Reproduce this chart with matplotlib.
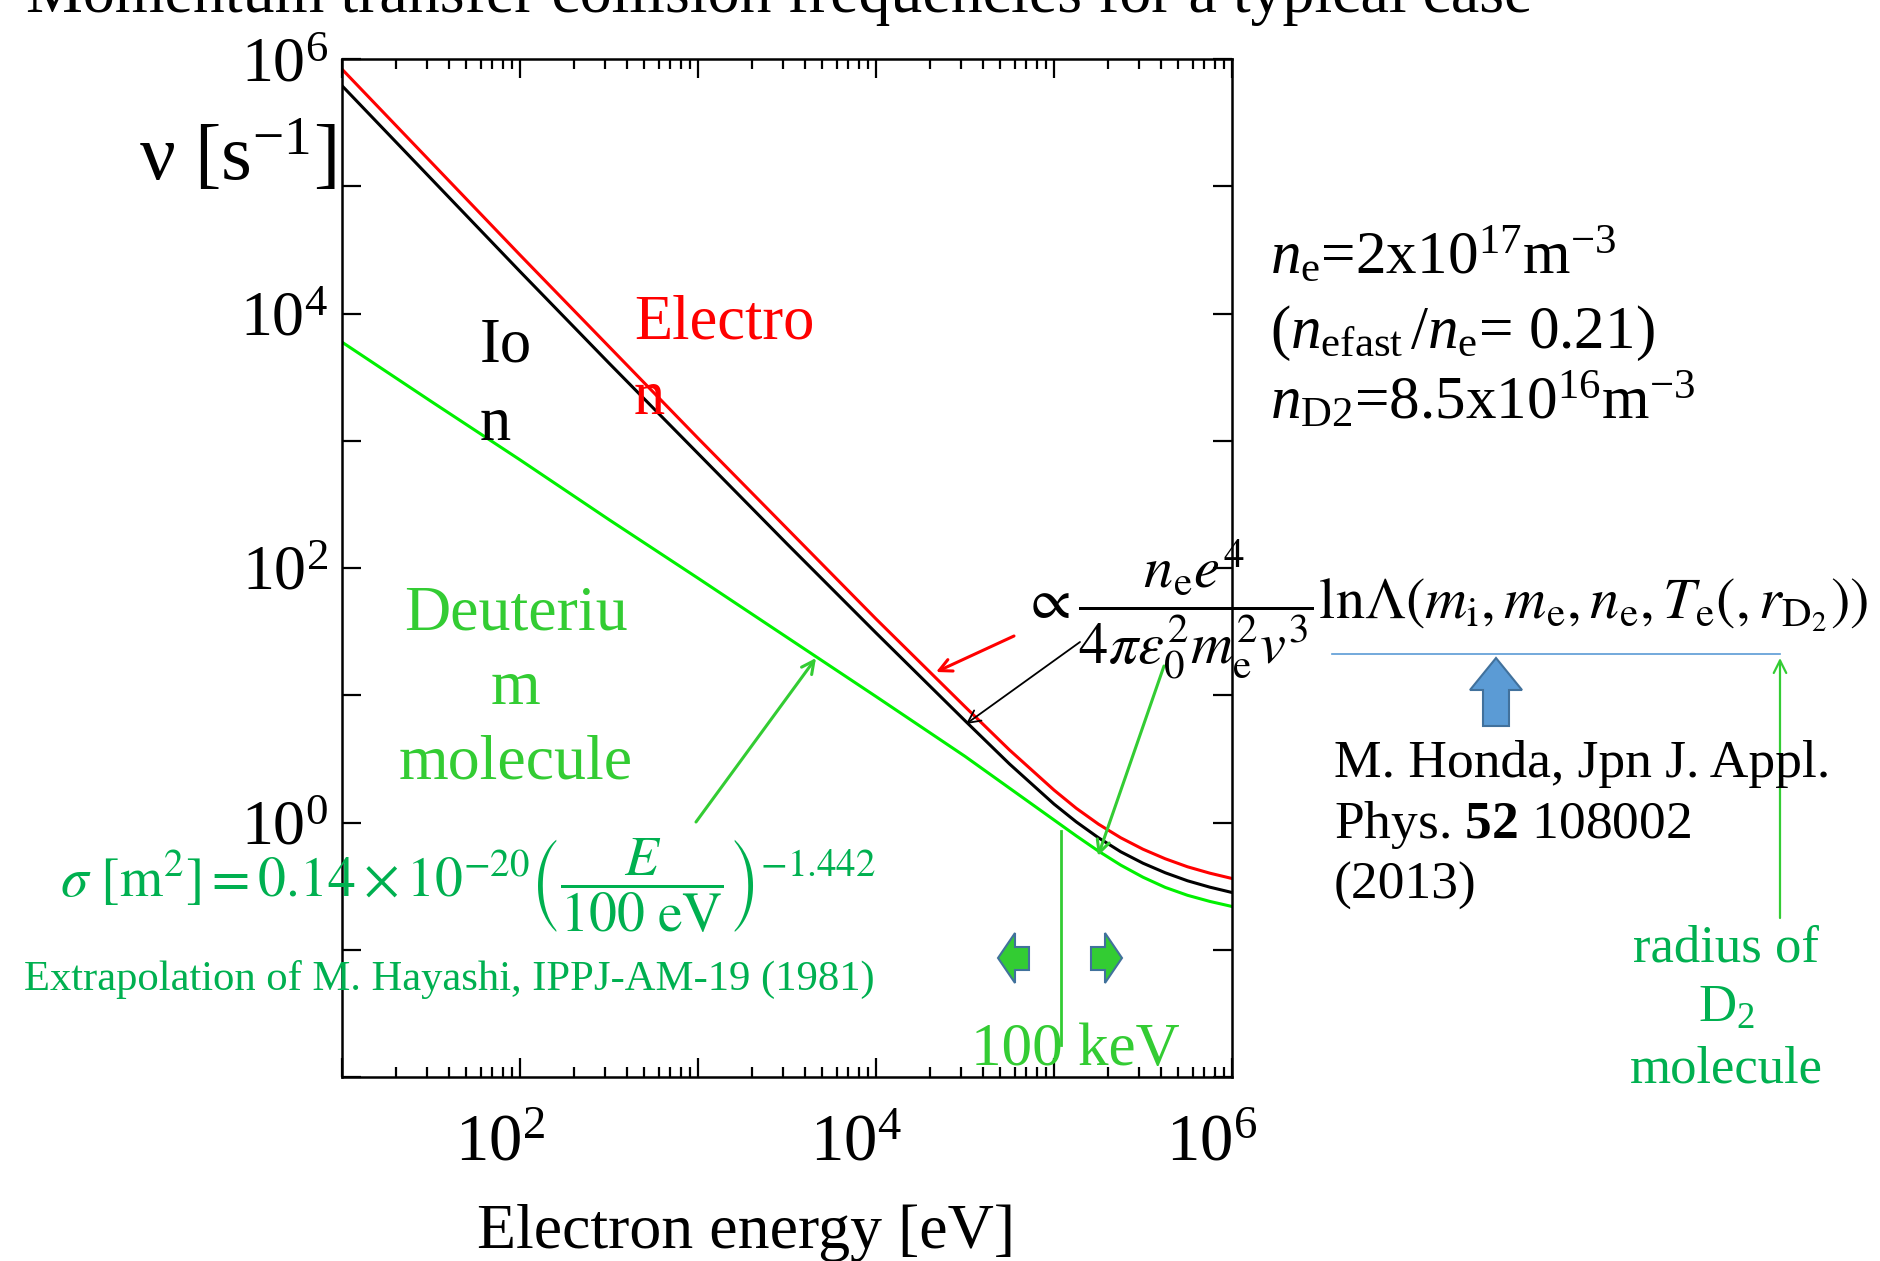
import numpy as np
import matplotlib
matplotlib.use("Agg")
import matplotlib.pyplot as plt
from matplotlib import ticker
from matplotlib.patches import Polygon
from matplotlib.transforms import ScaledTranslation

plt.rcParams["font.family"] = ["Liberation Serif", "DejaVu Serif"]
plt.rcParams["mathtext.fontset"] = "custom"
plt.rcParams["mathtext.rm"] = "Liberation Serif"
plt.rcParams["mathtext.it"] = "Liberation Serif:italic"
plt.rcParams["mathtext.bf"] = "Liberation Serif:bold"

W, H = 1881, 1261

log_energy = [1.0, 1.5, 2.0, 2.5, 3.0, 3.5, 4.0, 4.5, 4.75, 5.0, 5.125, 5.25,
              5.375, 5.5, 5.625, 5.75, 5.875, 6.0]
# log10 collision frequency [s^-1]
log_nu_electron = [5.92, 5.19, 4.46, 3.74, 3.02, 2.31, 1.60, 0.91, 0.57, 0.255, 0.112, -0.013,
                   -0.12, -0.21, -0.285, -0.348, -0.398, -0.44]
log_nu_ion = [5.79, 5.06, 4.33, 3.61, 2.90, 2.19, 1.49, 0.80, 0.46, 0.145, 0.005, -0.12,
              -0.23, -0.32, -0.395, -0.458, -0.508, -0.55]
log_nu_d2 = [3.775, 3.31, 2.85, 2.38, 1.92, 1.455, 0.99, 0.52, 0.27, 0.02, -0.105, -0.225,
             -0.335, -0.43, -0.51, -0.572, -0.62, -0.66]

x_decades = [1, 2, 3, 4, 5, 6]
y_decades = [-2, -1, 0, 1, 2, 3, 4, 5, 6]
labelled_decades = [0, 2, 4, 6]
cut_energy = 1.1e5  # "100 keV" marker

GREEN = "#33cc33"
DKGREEN = "#00b050"
BLUE = "#5b9bd5"


def fp(x, y):
    """full-size pixel position -> figure fraction"""
    return (x / W, 1 - y / H)


fig = plt.figure(figsize=(W / 100, H / 100), dpi=100)
ax = fig.add_axes([342 / W, 1 - 1077 / H, 890 / W, 1018 / H])

E = 10.0 ** np.array(log_energy)
ax.plot(E, 10.0 ** np.array(log_nu_electron), color="#ff0000", lw=2.2)
ax.plot(E, 10.0 ** np.array(log_nu_ion), color="black", lw=2.2)
ax.plot(E, 10.0 ** np.array(log_nu_d2), color="#00f000", lw=2.2)

ax.set_xscale("log")
ax.set_yscale("log")
ax.set_xlim(10, 1e6)
ax.set_ylim(1e-2, 1e6)


def dec_label(v, pos):
    e = int(round(np.log10(v)))
    return f"$10^{{{e}}}$" if e in labelled_decades else ""


ax.xaxis.set_major_locator(ticker.FixedLocator([10.0 ** d for d in x_decades]))
ax.xaxis.set_minor_locator(ticker.LogLocator(base=10, subs=np.arange(2, 10), numticks=20))
ax.xaxis.set_major_formatter(ticker.FuncFormatter(dec_label))
ax.xaxis.set_minor_formatter(ticker.NullFormatter())
ax.yaxis.set_major_locator(ticker.FixedLocator([10.0 ** d for d in y_decades]))
ax.yaxis.set_minor_locator(ticker.NullLocator())
ax.yaxis.set_major_formatter(ticker.FuncFormatter(dec_label))

for s in ax.spines.values():
    s.set_linewidth(1.8)
ax.tick_params(which="both", direction="in", top=True, right=True, width=1.6)
ax.tick_params(which="major", length=14)
ax.tick_params(which="minor", length=7)
ax.tick_params(axis="x", pad=26, labelsize=48)
ax.tick_params(axis="y", pad=10, labelsize=46)
shift = ScaledTranslation(-0.2, 0, fig.dpi_scale_trans)
for lab in ax.get_xticklabels():
    lab.set_transform(lab.get_transform() + shift)

ax.set_xlabel("Electron energy [eV]", fontsize=46, va="baseline")
ax.xaxis.set_label_coords((746 - 342) / 890, -(1248 - 1077) / 1018)

# title, mostly cut off by the top edge
fig.text(*fp(26, 12), "Momentum transfer collision frequencies for a typical case",
         fontsize=46, va="baseline", ha="left")
fig.text(*fp(336, 180), r"ν [s$^{-1}$]", fontsize=57, va="baseline", ha="right")

# curve labels
fig.text(*fp(480, 318), "Io\nn", fontsize=45, va="top", ha="left", linespacing=1.45)
fig.text(*fp(634, 294), "Electro\nn", fontsize=45, va="top", ha="left",
         color="#ff0000", linespacing=1.4)
fig.text(*fp(516, 586), "Deuteriu\nm\nmolecule", fontsize=46, va="top", ha="center",
         color=GREEN, linespacing=1.37)

# plasma parameters
fig.text(*fp(1270, 274), r"$\mathit{n}_{\mathrm{e}}$=2x10$^{17}$m$^{-3}$", fontsize=44)
fig.text(*fp(1270, 348), r"($\mathit{n}_{\mathrm{efast}}\,/\mathit{n}_{\mathrm{e}}$= 0.21)", fontsize=44)
fig.text(*fp(1270, 420), r"$\mathit{n}_{\mathrm{D2}}$=8.5x10$^{16}$m$^{-3}$", fontsize=44)

# Coulomb formula
fig.text(*fp(1022, 610),
         r"$\propto\dfrac{n_\mathrm{e}e^4}{4\pi\varepsilon_0^2m_\mathrm{e}^2v^3}"
         r"\mathrm{ln}\Lambda(m_\mathrm{i},m_\mathrm{e},n_\mathrm{e},T_\mathrm{e}(,r_{\mathrm{D}_2}))$",
         fontsize=42, va="center", ha="left", math_fontfamily="stix")
fig.text(*fp(1334, 740), "M. Honda, Jpn J. Appl.\nPhys. $\\mathbf{52}$ 108002\n(2013)",
         fontsize=38.5, va="top", ha="left", linespacing=1.28)
fig.text(*fp(1726, 924), "radius of\nD$_2$\nmolecule", fontsize=38, va="top",
         ha="center", color=DKGREEN, linespacing=1.35)

# cross-section formula
fig.text(*fp(60, 886),
         r"$\sigma\ [\mathrm{m}^2] = 0.14\times10^{-20}\left(\dfrac{E}{100\ \mathrm{eV}}\right)^{-1.442}$",
         fontsize=40, va="center", ha="left", color=DKGREEN, math_fontfamily="stix")
fig.text(*fp(24, 990), "Extrapolation of M. Hayashi, IPPJ-AM-19 (1981)", fontsize=30.7,
         va="baseline", ha="left", color=DKGREEN)

# 100 keV marker
ax.plot([cut_energy, cut_energy], [10 ** -1.75, 10 ** -0.07], color=GREEN, lw=2)
fig.text(*fp(1075, 1065), "100 keV", fontsize=44, va="baseline", ha="center", color=GREEN)


def block_arrow(pts, fc, ec):
    fig.patches.append(Polygon([fp(x, y) for x, y in pts], closed=True, fc=fc, ec=ec,
                               lw=1.5, transform=fig.transFigure, figure=fig))


block_arrow([(998, 958), (1015, 933), (1015, 947), (1029, 947), (1029, 970),
             (1015, 970), (1015, 983)], GREEN, "#41719c")
block_arrow([(1122, 958), (1105, 933), (1105, 947), (1091, 947), (1091, 970),
             (1105, 970), (1105, 983)], GREEN, "#41719c")
block_arrow([(1496, 658), (1470, 690), (1483, 690), (1483, 726), (1509, 726),
             (1509, 690), (1522, 690)], BLUE, "#41719c")


# pointer arrows
def pointer(tail, tip, color, lw):
    ax.annotate("", xy=fp(*tip), xytext=fp(*tail), xycoords="figure fraction",
                textcoords="figure fraction", annotation_clip=False,
                arrowprops=dict(arrowstyle="->,head_length=0.9,head_width=0.45",
                                color=color, lw=lw, shrinkA=0, shrinkB=0))


pointer((696, 822), (816, 658), GREEN, 2.2)
pointer((1164, 666), (1098, 856), GREEN, 2.2)
pointer((1014, 636), (936, 672), "#ff0000", 2.2)
pointer((1080, 642), (966, 724), "black", 1.3)
pointer((1780, 918), (1780, 658), GREEN, 1.6)
fig.add_artist(plt.Line2D([1332 / W, 1780 / W], [1 - 654 / H, 1 - 654 / H],
                          color=BLUE, lw=1.2, transform=fig.transFigure))

fig.savefig("out.png", dpi=100)
